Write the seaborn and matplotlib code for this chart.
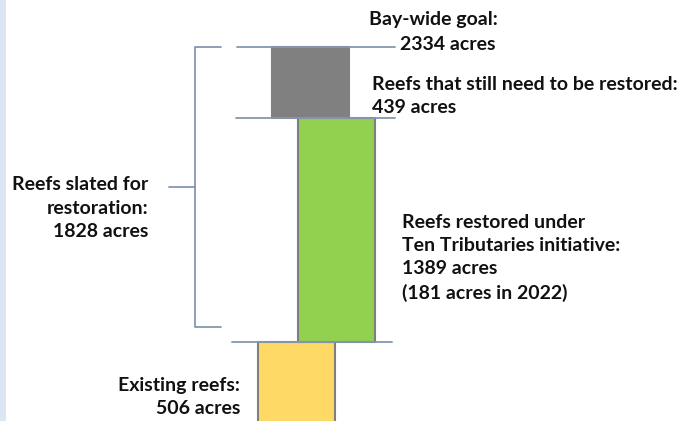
import matplotlib
matplotlib.use("Agg")
import matplotlib.pyplot as plt
import seaborn as sns
from matplotlib.patches import Rectangle

# ---- data ----
categories = ["Existing reefs", "Reefs restored under Ten Tributaries initiative",
              "Reefs that still need to be restored"]
acres = [506, 1389, 439]
goal = 2334
slated = 1828
acres_2022 = 181

sns.set_theme(style="white")
plt.rcParams["font.family"] = ["Lato", "DejaVu Sans"]

W, H = 694, 421
fig = plt.figure(figsize=(W / 100, H / 100), dpi=100)
ax = fig.add_axes([0, 0, 1, 1])

# linear scale: goal at 47 px from top, existing-reef top at 342 px
k = (342 - 47) / (goal - acres[0])  # px per acre
ytop = goal + 47 / k
ybot = goal - (H - 47) / k

def py(p):
    """pixel row -> data y"""
    return goal - (p - 47) / k

colors = ["#FFD966", "#92D050", "#808080"]
centers = [296.5, 336.5, 311]
edgecols = ["#7F7F7F", "#7F7F7F", "#808080"]
bottoms = [0, acres[0], acres[0] + acres[1]]
for c, v, b, col, ec in zip(centers, acres, bottoms, colors, edgecols):
    sns.barplot(x=[c], y=[v], bottom=b, native_scale=True, width=77,
                color=col, saturation=1, edgecolor=ec, linewidth=1.5, ax=ax,
                zorder=2)
ax.set_xlim(0, W)
ax.set_ylim(ybot, ytop)
ax.set_axis_off()

lc = "#8497B0"
# level lines
ax.plot([237, 395], [goal, goal], color=lc, lw=1.3, zorder=3)
ax.plot([236, 395], [bottoms[2], bottoms[2]], color=lc, lw=1.3, zorder=3)
ax.plot([232, 392], [bottoms[1], bottoms[1]], color=lc, lw=1.3, zorder=3)

# bracket
b_top = goal
b_bot = py(327)
b_mid = (b_top + b_bot) / 2
ax.plot([221, 195, 195, 221], [b_top, b_top, b_bot, b_bot], color=lc, lw=1.3)
ax.plot([169, 195], [b_mid, b_mid], color=lc, lw=1.3)

# left light-blue strip
ax.add_patch(Rectangle((0, ybot), 6, ytop - ybot, color="#DCE6F2", lw=0, zorder=0))

tk = dict(fontsize=14, fontweight="bold", color="#111111", linespacing=1.45)

def txt(x, y, s, ha="left", va="center"):
    fig.text(x / W, 1 - y / H, s, ha=ha, va=va, **tk)

txt(369, 20, "Bay-wide goal:")
txt(400, 45, f"{goal} acres")
txt(372, 96, f"Reefs that still need to be restored:\n{acres[2]} acres")
txt(402, 258, "Reefs restored under\nTen Tributaries initiative:\n"
              f"{acres[1]} acres\n({acres_2022} acres in 2022)")
txt(148, 208, f"Reefs slated for\nrestoration:\n{slated} acres", ha="right")
txt(240, 397, f"Existing reefs:\n{acres[0]} acres", ha="right")

fig.savefig("out.png", dpi=100)
